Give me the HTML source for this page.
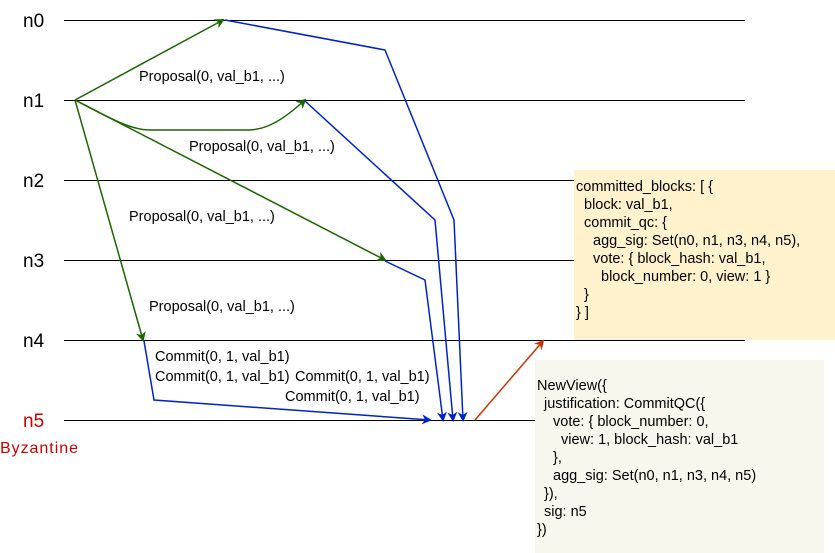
<!DOCTYPE html>
<html><head><meta charset="utf-8"><style>
html,body{margin:0;padding:0;background:#fff;}
svg{display:block;font-family:"Liberation Sans",Arial,sans-serif;}
</style></head><body>
<svg width="835" height="553" viewBox="0 0 835 553">
<defs>
<marker id="ag" markerWidth="10" markerHeight="10" refX="8" refY="5" orient="auto" markerUnits="userSpaceOnUse"><path d="M0,0 L10,5 L0,10 L3,5 Z" fill="#1a6600"/></marker>
<marker id="ab" markerWidth="10" markerHeight="10" refX="8" refY="5" orient="auto" markerUnits="userSpaceOnUse"><path d="M0,0 L10,5 L0,10 L3,5 Z" fill="#0022cc"/></marker>
<marker id="ao" markerWidth="10" markerHeight="10" refX="8" refY="5" orient="auto" markerUnits="userSpaceOnUse"><path d="M0,0 L10,5 L0,10 L3,5 Z" fill="#cc3300"/></marker>
</defs>
<rect x="574" y="170" width="261" height="170" fill="#fff2cc"/>
<rect x="535" y="360" width="289" height="193" fill="#f9f7ed"/>
<g stroke="#000" stroke-width="1">
<line x1="64" y1="20.5" x2="745" y2="20.5"/>
<line x1="64" y1="100.5" x2="745" y2="100.5"/>
<line x1="64" y1="180.5" x2="574" y2="180.5"/>
<line x1="64" y1="260.5" x2="574" y2="260.5"/>
<line x1="64" y1="340.5" x2="745" y2="340.5"/>
<line x1="64" y1="420.5" x2="535" y2="420.5"/>
</g>
<g font-size="19" fill="#000">
<text x="23" y="27">n0</text><text x="23" y="107">n1</text><text x="23" y="187">n2</text>
<text x="23" y="267">n3</text><text x="23" y="347">n4</text><text x="23" y="427" fill="#cc0000">n5</text>
</g>
<text x="0" y="453" font-size="16" textLength="78" fill="#cc0000">Byzantine</text>
<g stroke="#1a6600" stroke-width="1.5" fill="none">
<path d="M75,100 L223,20" marker-end="url(#ag)"/>
<path d="M75,100 C110,118 130,130 150,130 L248,130 C268,130 285,118 305,100" marker-end="url(#ag)"/>
<path d="M75,100 L385,260" marker-end="url(#ag)"/>
<path d="M75,100 L143,340" marker-end="url(#ag)"/>
</g>
<g stroke="#0022cc" stroke-width="1.5" fill="none">
<path d="M225,20 L385,50 L454,220 L463,420" marker-end="url(#ab)"/>
<path d="M305,101 L435,220 L453,420" marker-end="url(#ab)"/>
<path d="M385,261 L425,280 L443,420" marker-end="url(#ab)"/>
<path d="M144,341 L154,400 L430,420" marker-end="url(#ab)"/>
</g>
<path d="M475,420 L543,341" stroke="#cc3300" stroke-width="1.5" fill="none" marker-end="url(#ao)"/>
<g font-size="14.5" fill="#000">
<text x="139" y="81">Proposal(0, val_b1, ...)</text>
<text x="189" y="151">Proposal(0, val_b1, ...)</text>
<text x="129" y="221">Proposal(0, val_b1, ...)</text>
<text x="149" y="311">Proposal(0, val_b1, ...)</text>
<text x="155" y="361">Commit(0, 1, val_b1)</text>
<text x="155" y="381">Commit(0, 1, val_b1)</text>
<text x="295" y="381">Commit(0, 1, val_b1)</text>
<text x="285" y="401">Commit(0, 1, val_b1)</text>
</g>
<g font-size="14.5" fill="#000">
<text x="576" y="191">committed_blocks: [ {</text>
<text x="584" y="209">block: val_b1,</text>
<text x="584" y="227">commit_qc: {</text>
<text x="593" y="245">agg_sig: Set(n0, n1, n3, n4, n5),</text>
<text x="593" y="263">vote: { block_hash: val_b1,</text>
<text x="601" y="281">block_number: 0, view: 1 }</text>
<text x="584" y="299">}</text>
<text x="576" y="317">} ]</text>
</g>
<g font-size="14.5" fill="#000">
<text x="537" y="390">NewView({</text>
<text x="544" y="408">justification: CommitQC({</text>
<text x="553" y="426">vote: { block_number: 0,</text>
<text x="561" y="444">view: 1, block_hash: val_b1</text>
<text x="553" y="462">},</text>
<text x="553" y="480">agg_sig: Set(n0, n1, n3, n4, n5)</text>
<text x="544" y="498">}),</text>
<text x="544" y="516">sig: n5</text>
<text x="537" y="534">})</text>
</g>
</svg>
</body></html>
